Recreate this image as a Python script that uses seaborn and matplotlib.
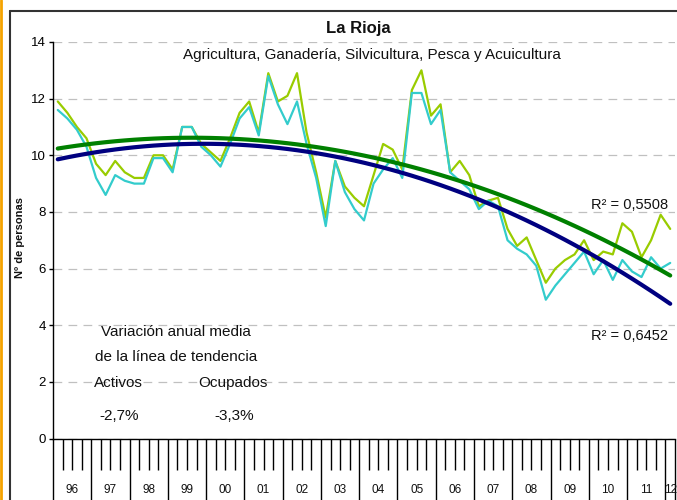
import numpy as np
import pandas as pd
import seaborn as sns
import matplotlib.pyplot as plt
from matplotlib.lines import Line2D

# quarterly data 1996Q1 .. 2012Q1 (miles de personas)
years = ["96", "97", "98", "99", "00", "01", "02", "03", "04", "05", "06",
         "07", "08", "09", "10", "11", "12"]
activos = [11.9, 11.5, 11.0, 10.6, 9.7, 9.3, 9.8, 9.4, 9.2, 9.2, 10.0, 10.0,
           9.5, 11.0, 11.0, 10.4, 10.1, 9.8, 10.6, 11.5, 11.9, 10.8, 12.9, 11.9,
           12.1, 12.9, 10.8, 9.4, 7.8, 9.8, 8.9, 8.5, 8.2, 9.3, 10.4, 10.2,
           9.5, 12.3, 13.0, 11.4, 11.8, 9.4, 9.8, 9.3, 8.2, 8.4, 8.5, 7.4,
           6.8, 7.1, 6.3, 5.5, 6.0, 6.3, 6.5, 7.0, 6.3, 6.6, 6.5, 7.6,
           7.3, 6.4, 7.0, 7.9, 7.4]
ocupados = [11.6, 11.3, 10.9, 10.3, 9.2, 8.6, 9.3, 9.1, 9.0, 9.0, 9.9, 9.9,
            9.4, 11.0, 11.0, 10.3, 10.0, 9.6, 10.4, 11.3, 11.7, 10.7, 12.8, 11.8,
            11.1, 11.9, 10.4, 9.2, 7.5, 9.8, 8.7, 8.1, 7.7, 9.0, 9.5, 9.9,
            9.2, 12.2, 12.2, 11.1, 11.6, 9.4, 9.1, 8.8, 8.1, 8.4, 8.2, 7.0,
            6.7, 6.5, 6.1, 4.9, 5.4, 5.8, 6.2, 6.6, 5.8, 6.3, 5.6, 6.3,
            5.9, 5.7, 6.4, 6.0, 6.2]
r2_labels = ["R² = 0,5508", "R² = 0,6452"]
variacion = ["-2,7%", "-3,3%"]

sns.set_style("white")
plt.rcParams["font.family"] = ["Liberation Sans Narrow", "Liberation Sans", "DejaVu Sans"]
plt.rcParams["text.color"] = "#111111"
plt.rcParams["ytick.color"] = "black"
plt.rcParams["xtick.color"] = "black"

W, H = 677, 500


def fx(px):
    return px / W


def fy(py):
    return 1 - py / H


df = pd.DataFrame({"t": np.arange(len(activos)), "Activos": activos, "Ocupados": ocupados})
df["TendA"] = np.polyval(np.polyfit(df["t"], df["Activos"], 2), df["t"])
df["TendO"] = np.polyval(np.polyfit(df["t"], df["Ocupados"], 2), df["t"])

fig = plt.figure(figsize=(W / 100, H / 100), dpi=100)
ax = fig.add_axes([fx(53), fy(438.5), fx(622), 396.5 / H])

sns.lineplot(data=df, x="t", y="Activos", color="#99CC00", lw=1.6, ax=ax)
sns.lineplot(data=df, x="t", y="Ocupados", color="#33CCCC", lw=1.6, ax=ax)
sns.lineplot(data=df, x="t", y="TendA", color="#008000", lw=3.0, ax=ax)
sns.lineplot(data=df, x="t", y="TendO", color="#000080", lw=3.0, ax=ax)

ax.set_xlim(-0.5, len(activos) - 0.5)
ax.set_ylim(0, 14)
ax.set_yticks(range(0, 15, 2))
ax.yaxis.grid(True, ls=(0, (7, 5)), color="#c0c0c0", lw=0.9)
ax.set_axisbelow(True)
for s in ["top", "right"]:
    ax.spines[s].set_visible(False)
for s in ["left", "bottom"]:
    ax.spines[s].set_color("black")
    ax.spines[s].set_linewidth(1.0)
ax.set_xlabel("")
ax.set_ylabel("")

# year separators (long) and quarter ticks (short)
major = list(np.arange(-0.5, len(activos), 4)) + [len(activos) - 0.5]
minor = [b for b in np.arange(0.5, len(activos) - 0.5, 1) if (b + 0.5) % 4 != 0]
ax.set_xticks(major)
ax.set_xticks(minor, minor=True)
ax.tick_params(axis="x", which="major", bottom=True, direction="out", length=46,
               width=1, color="black", labelbottom=False)
ax.tick_params(axis="x", which="minor", bottom=True, direction="out", length=22,
               width=1, color="black", labelbottom=False)
ax.tick_params(axis="y", direction="out", length=3, width=1, color="black",
               labelsize=9.5, pad=2, left=True)

for k, yr in enumerate(years):
    c = 4 * k + 1.5 if k < 16 else len(activos) - 1
    ax.text(c, -0.13, yr, transform=ax.get_xaxis_transform(), ha="center",
            va="center", fontsize=8.5)

fig.text(fx(358), fy(28), "La Rioja", ha="center", va="center", fontsize=12,
         fontweight="bold")
fig.text(fx(372), fy(55), "Agricultura, Ganadería, Silvicultura, Pesca y Acuicultura",
         ha="center", va="center", fontsize=11)
fig.text(fx(20), fy(237), "Nº de personas", rotation=90, ha="center", va="center",
         fontsize=8, fontweight="bold")

fig.text(fx(176), fy(332), "Variación anual media", ha="center", va="center", fontsize=11)
fig.text(fx(176), fy(357), "de la línea de tendencia", ha="center", va="center", fontsize=11)
fig.text(fx(118), fy(383), "Activos", ha="center", va="center", fontsize=11)
fig.text(fx(233), fy(383), "Ocupados", ha="center", va="center", fontsize=11)
fig.text(fx(119), fy(416), variacion[0], ha="center", va="center", fontsize=11)
fig.text(fx(234), fy(416), variacion[1], ha="center", va="center", fontsize=11)

fig.text(fx(668), fy(205), r2_labels[0], ha="right", va="center", fontsize=10.5)
fig.text(fx(668), fy(336), r2_labels[1], ha="right", va="center", fontsize=10.5)

# chart frame and page edge
fig.add_artist(Line2D([fx(10), fx(10)], [0, fy(11)], color="#333333", lw=1.5))
fig.add_artist(Line2D([fx(10), 1], [fy(11), fy(11)], color="#333333", lw=1.5))
fig.add_artist(Line2D([fx(1), fx(1)], [0, 1], color="#F5A300", lw=2))

fig.savefig("out.png", dpi=100)
plt.close(fig)
